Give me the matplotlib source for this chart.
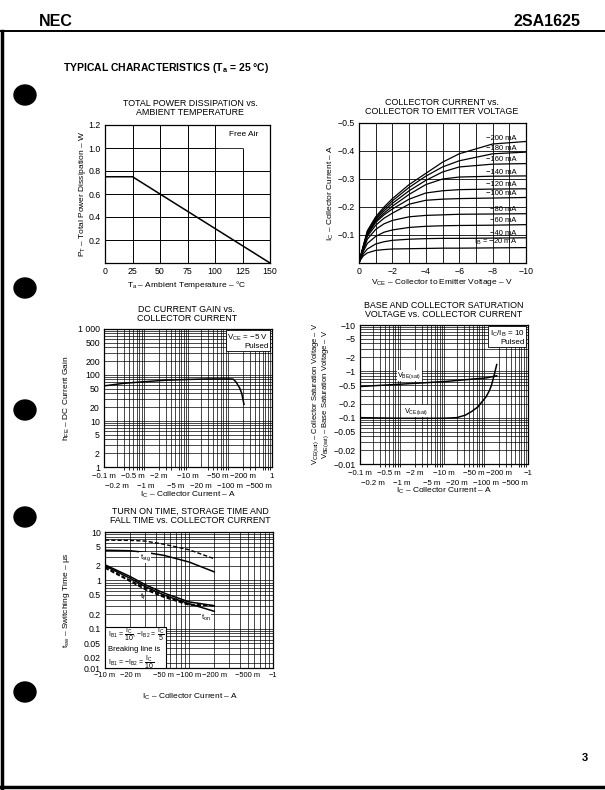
import matplotlib
matplotlib.use("Agg")
import matplotlib.pyplot as plt
import numpy as np
from matplotlib.patches import Ellipse, Rectangle
from matplotlib.lines import Line2D
from matplotlib.ticker import FixedLocator, LogLocator, NullFormatter

plt.rcParams['font.family'] = ['Liberation Sans Narrow', 'Liberation Sans', 'DejaVu Sans']
plt.rcParams['mathtext.fontset'] = 'custom'
plt.rcParams['mathtext.rm'] = 'Liberation Sans'
plt.rcParams['mathtext.it'] = 'Liberation Sans'
plt.rcParams['mathtext.default'] = 'regular'

# ---- data ----
# total power dissipation
ta = [0, 25, 150]
pt = [0.75, 0.75, 0.0]

# collector current vs VCE (A, V)
vce = [0, -0.1, -0.25, -0.5, -1, -1.5, -2, -3, -4, -5, -6, -8, -10]
ib_names = ["−200 mA", "−180 mA", "−160 mA", "−140 mA", "−120 mA",
            "−100 mA", "−80 mA", "−60 mA", "−40 mA", "$I_B$ = −20 mA"]
ic_200 = [0, -.025, -.06, -.115, -.165, -.2, -.23, -.28, -.32, -.36, -.39, -.425, -.434]
ic_180 = [0, -.025, -.058, -.112, -.16, -.193, -.222, -.27, -.31, -.343, -.365, -.39, -.396]
ic_160 = [0, -.024, -.056, -.108, -.155, -.186, -.213, -.258, -.295, -.325, -.343, -.353, -.355]
ic_140 = [0, -.024, -.055, -.104, -.15, -.178, -.203, -.245, -.28, -.3, -.307, -.31, -.311]
ic_120 = [0, -.023, -.053, -.1, -.145, -.172, -.193, -.228, -.25, -.258, -.262, -.264, -.265]
ic_100 = [0, -.022, -.05, -.095, -.135, -.16, -.178, -.21, -.224, -.228, -.23, -.232, -.234]
ic_80 = [0, -.02, -.045, -.085, -.12, -.14, -.152, -.165, -.17, -.172, -.174, -.175, -.176]
ic_60 = [0, -.018, -.04, -.07, -.095, -.11, -.118, -.127, -.131, -.133, -.134, -.135, -.137]
ic_40 = [0, -.015, -.032, -.05, -.068, -.076, -.081, -.085, -.087, -.088, -.088, -.089, -.09]
ic_20 = [0, -.012, -.025, -.036, -.045, -.048, -.05, -.051, -.052, -.053, -.053, -.054, -.055]

# DC current gain (|IC| in A)
ic_gain = [1e-4, 3e-4, 1e-3, 3e-3, 1e-2, 3e-2, 0.1, 0.12, 0.14, 0.17, 0.19, 0.215]
hfe = [58, 66, 72, 77, 80, 82, 82, 81, 70, 52, 40, 23]

# saturation voltages (|IC| in A, |V|)
ic_vbe = [1e-4, 1e-3, 1e-2, 0.1, 0.18]
vbe_sat = [0.47, 0.53, 0.6, 0.72, 0.8]
ic_vce = [1e-4, 1e-3, 1e-2, 2e-2, 3.2e-2, 4.5e-2, 6.4e-2, 0.08, 0.1, 0.12, 0.135, 0.155, 0.18]
vce_sat = [0.1, 0.097, 0.097, 0.1, 0.113, 0.135, 0.17, 0.22, 0.28, 0.38, 0.5, 0.8, 1.4]

# switching times (|IC| in A, us)
ic_sw = [0.01, 0.02, 0.03, 0.05, 0.1, 0.2]
tstg_dash = [6.8, 6.7, 6.5, 5.6, 4.3, 2.8]
tstg = [4.2, 4.1, 3.8, 3.3, 2.4, 1.5]
ton = [2.0, 1.1, 0.75, 0.5, 0.33, 0.23]
tf = [2.1, 1.2, 0.82, 0.55, 0.36, 0.3]
ton_dash = [1.9, 1.0, 0.7, 0.47, 0.32, 0.3]
tf_dash = [1.8, 0.95, 0.65, 0.45, 0.31, 0.3]

# tick labels (log current axes use two staggered rows)
row1_ticks = [1e-4, 5e-4, 2e-3, 1e-2, 5e-2, 0.2, 1]
row1_names = ["−0.1 m", "−0.5 m", "−2 m", "−10 m", "−50 m", "−200 m", "1"]
row2_ticks = [2e-4, 1e-3, 5e-3, 2e-2, 0.1, 0.5]
row2_names = ["−0.2 m", "−1 m", "−5 m", "−20 m", "−100 m", "−500 m"]
hfe_ticks = [1, 2, 5, 10, 20, 50, 100, 200, 500, 1000]
hfe_names = ["1", "2", "5", "10", "20", "50", "100", "200", "500", "1 000"]
v_ticks = [0.01, 0.02, 0.05, 0.1, 0.2, 0.5, 1, 2, 5, 10]
v_names = ["−0.01", "−0.02", "−0.05", "−0.1", "−0.2", "−0.5", "−1", "−2", "−5", "−10"]
sw_x_ticks = [0.01, 0.02, 0.05, 0.1, 0.2, 0.5, 1]
sw_x_names = ["−10 m", "−20 m", "−50 m", "−100 m", "−200 m", "−500 m", "−1"]
sw_y_ticks = [0.0155, 0.02, 0.05, 0.1, 0.2, 0.5, 1, 2, 5, 10]
sw_y_names = ["0.01", "0.02", "0.05", "0.1", "0.2", "0.5", "1", "2", "5", "10"]

W, H = 605, 790
fig = plt.figure(figsize=(W / 100, H / 100), dpi=100)


def box(l, t, r, b):
    return [l / W, 1 - b / H, (r - l) / W, (b - t) / H]


def ftext(x, y, s, **kw):
    kw.setdefault('ha', 'center')
    kw.setdefault('va', 'center')
    fig.text(x / W, 1 - y / H, s, **kw)


def style(ax):
    ax.set_axisbelow(True)
    ax.tick_params(which='both', length=0, labelsize=6.3, pad=3)
    for s in ax.spines.values():
        s.set_linewidth(0.9)


def loggrid(ax, axis):
    a = ax.xaxis if axis == 'x' else ax.yaxis
    a.set_minor_locator(LogLocator(base=10, subs=np.arange(2, 10)))
    a.set_minor_formatter(NullFormatter())


def two_rows(ax, names1):
    ax.set_xticks(row1_ticks)
    ax.set_xticklabels(names1)
    ax.tick_params(axis='x', pad=4, labelsize=5.6)
    sec = ax.secondary_xaxis('bottom')
    sec.set_xticks(row2_ticks)
    sec.set_xticklabels(row2_names)
    sec.tick_params(length=0, pad=11.5, labelsize=5.6)
    sec.spines['bottom'].set_visible(False)


TS = 6.4   # title size
LS = 6.0   # axis label size

# ---- page furniture ----
fig.add_artist(Line2D([0, 1], [1 - 31 / H] * 2, color='k', lw=1.4))
fig.add_artist(Line2D([1.5 / W] * 2, [0, 1 - 31 / H], color='k', lw=2.5))
fig.add_artist(Line2D([0, 1], [1 - 787 / H] * 2, color='k', lw=2.5))
ftext(39, 21, "NEC", ha='left', fontsize=11.5, fontweight='bold', family='Liberation Sans')
ftext(580, 21, "2SA1625", ha='right', fontsize=11.5, fontweight='bold', family='Liberation Sans')
ftext(63, 68, "TYPICAL CHARACTERISTICS (T$_a$ = 25 °C)", ha='left', fontsize=7.5,
      fontweight='bold', family='Liberation Sans')
ftext(585, 758, "3", fontsize=8, fontweight='bold', family='Liberation Sans')
for yc in [95, 288, 410, 517, 692]:
    fig.add_artist(Ellipse((25 / W, 1 - yc / H), 22 / W, 20 / H, color='k',
                           transform=fig.transFigure))

# ---- total power dissipation ----
ax1 = fig.add_axes(box(105, 125, 270, 263))
style(ax1)
ax1.plot(ta, pt, color='k', lw=1.1, zorder=3)
ax1.set_xlim(0, 150)
ax1.set_ylim(0, 1.2)
ax1.set_xticks([0, 25, 50, 75, 100, 125, 150])
ax1.set_yticks([0.2, 0.4, 0.6, 0.8, 1.0, 1.2])
ax1.set_yticklabels(["0.2", "0.4", "0.6", "0.8", "1.0", "1.2"])
ax1.grid(True, color='k', lw=0.7)
ax1.add_patch(Rectangle((101.5, 1.01), 48.5, 0.19, color='w', zorder=1))
ax1.add_patch(Rectangle((126, 0.99), 24, 0.21, color='w', zorder=1))
ax1.text(126, 1.12, "Free Air", fontsize=6, ha='center', va='center')
ftext(190, 108, "TOTAL POWER DISSIPATION vs.\nAMBIENT TEMPERATURE", fontsize=TS, linespacing=1.0)
ftext(187, 285, "T$_a$ – Ambient Temperature – °C", fontsize=LS)
ftext(83, 194, "P$_T$ – Total Power Dissipation – W", fontsize=LS, rotation=90)

# ---- collector current vs VCE ----
ax2 = fig.add_axes(box(359, 123, 526, 263))
style(ax2)
curves = [ic_200, ic_180, ic_160, ic_140, ic_120, ic_100, ic_80, ic_60, ic_40, ic_20]
for name, ic in zip(ib_names, curves):
    ax2.plot(vce, ic, color='k', lw=0.9, zorder=3)
    yl = np.interp(9.0, -np.array(vce), -np.array(ic))
    ax2.text(-9.45, -yl - 0.002, name, fontsize=5.5, ha='right', va='bottom', zorder=4)
ax2.set_xlim(0, -10)
ax2.set_ylim(0, -0.5)
ax2.set_xticks([0, -2, -4, -6, -8, -10])
ax2.set_xticklabels(["0", "−2", "−4", "−6", "−8", "−10"])
ax2.xaxis.set_minor_locator(FixedLocator([-1, -3, -5, -7, -9]))
ax2.set_yticks([-0.1, -0.2, -0.3, -0.4, -0.5])
ax2.set_yticklabels(["−0.1", "−0.2", "−0.3", "−0.4", "−0.5"])
ax2.grid(True, which='both', color='k', lw=0.6)
ftext(442, 107, "COLLECTOR CURRENT vs.\nCOLLECTOR TO EMITTER VOLTAGE", fontsize=TS, linespacing=1.0)
ftext(442, 283, "V$_{CE}$ – Collector to Emitter Voltage – V", fontsize=LS)
ftext(331, 193, "I$_C$ – Collector Current – A", fontsize=LS, rotation=90)

# ---- DC current gain ----
ax3 = fig.add_axes(box(104, 329, 272, 467))
style(ax3)
ax3.set_xscale('log')
ax3.set_yscale('log')
ax3.plot(ic_gain, hfe, color='k', lw=1.1, zorder=3)
ax3.set_xlim(1e-4, 1)
ax3.set_ylim(1, 1000)
loggrid(ax3, 'x')
loggrid(ax3, 'y')
two_rows(ax3, row1_names)
ax3.set_yticks(hfe_ticks)
ax3.set_yticklabels(hfe_names)
ax3.grid(True, which='both', color='k', lw=0.5)
ax3.text(0.98, 0.975, "V$_{CE}$ = −5 V\nPulsed", transform=ax3.transAxes, fontsize=5.8,
         ha='right', va='top', linespacing=1.0,
         bbox=dict(facecolor='w', edgecolor='k', lw=0.6, pad=1.2), zorder=5)
ftext(187, 314, "DC CURRENT GAIN vs.\nCOLLECTOR CURRENT", fontsize=TS, linespacing=1.0)
ftext(188, 495, "I$_C$ – Collector Current – A", fontsize=LS)
ftext(67, 398, "h$_{FE}$ – DC Current Gain", fontsize=LS, rotation=90)

# ---- saturation voltages ----
ax4 = fig.add_axes(box(360, 325, 528, 464))
style(ax4)
ax4.set_xscale('log')
ax4.set_yscale('log')
ax4.plot(ic_vbe, vbe_sat, color='k', lw=1.1, zorder=3)
ax4.plot(ic_vce, vce_sat, color='k', lw=1.1, zorder=3)
ax4.set_xlim(1e-4, 1)
ax4.set_ylim(0.01, 10)
loggrid(ax4, 'x')
loggrid(ax4, 'y')
two_rows(ax4, row1_names[:-1] + ["−1"])
ax4.set_yticks(v_ticks)
ax4.set_yticklabels(v_names)
ax4.grid(True, which='both', color='k', lw=0.5)
ax4.text(1.5e-3, 0.62, "V$_{BE(sat)}$", fontsize=5.3, ha='center', va='bottom',
         bbox=dict(facecolor='w', edgecolor='none', pad=0.3), zorder=4)
ax4.text(2.2e-3, 0.105, "V$_{CE(sat)}$", fontsize=5.3, ha='center', va='bottom',
         bbox=dict(facecolor='w', edgecolor='none', pad=0.3), zorder=4)
ax4.text(0.98, 0.975, "I$_C$/I$_B$ = 10\nPulsed", transform=ax4.transAxes, fontsize=5.8,
         ha='right', va='top', linespacing=1.0,
         bbox=dict(facecolor='w', edgecolor='k', lw=0.6, pad=1.2), zorder=5)
ftext(444, 310, "BASE AND COLLECTOR SATURATION\nVOLTAGE vs. COLLECTOR CURRENT", fontsize=TS,
      linespacing=1.0)
ftext(444, 491, "I$_C$ – Collector Current – A", fontsize=LS)
ftext(316, 394, "V$_{CE(sat)}$ – Collector Saturation Voltage – V", fontsize=5.5, rotation=90)
ftext(326, 394, "V$_{BE(sat)}$ – Base Saturation Voltage – V", fontsize=5.5, rotation=90)

# ---- switching times ----
ax5 = fig.add_axes(box(105, 532, 273, 668))
style(ax5)
ax5.set_xscale('log')
ax5.set_yscale('log')
ax5.plot(ic_sw, tstg_dash, color='k', lw=1.0, ls=(0, (3, 1.5)), zorder=3)
ax5.plot(ic_sw, tstg, color='k', lw=1.1, zorder=3)
ax5.plot(ic_sw, ton, color='k', lw=1.1, zorder=3)
ax5.plot(ic_sw, tf, color='k', lw=1.1, zorder=3)
ax5.plot(ic_sw, ton_dash, color='k', lw=1.0, ls=(0, (3, 1.5)), zorder=3)
ax5.plot(ic_sw, tf_dash, color='k', lw=1.0, ls=(0, (3, 1.5)), zorder=3)
ax5.set_xlim(0.01, 1)
ax5.set_ylim(0.0155, 10)
loggrid(ax5, 'x')
loggrid(ax5, 'y')
ax5.set_xticks(sw_x_ticks)
ax5.set_xticklabels(sw_x_names)
ax5.set_yticks(sw_y_ticks)
ax5.set_yticklabels(sw_y_names)
ax5.get_yticklabels()[1].set_va('bottom')
ax5.tick_params(axis='x', pad=3, labelsize=5.4)
ax5.grid(True, which='both', color='k', lw=0.5)
ax5.text(0.03, 3.0, "t$_{stg}$", fontsize=5.5, ha='center', va='center',
         bbox=dict(facecolor='w', edgecolor='none', pad=0.2), zorder=4)
ax5.text(0.028, 0.45, "t$_f$", fontsize=5.5, ha='center', va='center', zorder=4)
ax5.text(0.16, 0.17, "t$_{on}$", fontsize=5.5, ha='center', va='center',
         bbox=dict(facecolor='w', edgecolor='none', pad=0.2), zorder=4)
ax5.add_patch(Rectangle((0, 0), 0.363, 0.30, transform=ax5.transAxes, facecolor='w',
                        edgecolor='k', lw=0.8, zorder=4))
ax5.text(0.02, 0.245, r"I$_{B1}$ = $\dfrac{I_C}{10}$, −I$_{B2}$ = $\dfrac{I_C}{5}$",
         transform=ax5.transAxes, fontsize=5.0, ha='left', va='center', zorder=5)
ax5.text(0.02, 0.135, "Breaking line is", transform=ax5.transAxes, fontsize=5.5,
         ha='left', va='center', zorder=5)
ax5.text(0.02, 0.045, r"I$_{B1}$ = −I$_{B2}$ = $\dfrac{I_C}{10}$", transform=ax5.transAxes,
         fontsize=5.0, ha='left', va='center', zorder=5)
ftext(190, 516, "TURN ON TIME, STORAGE TIME AND\nFALL TIME vs. COLLECTOR CURRENT", fontsize=TS,
      linespacing=1.0)
ftext(190, 697, "I$_C$ – Collector Current – A", fontsize=LS)
ftext(67, 600, "t$_{sw}$ – Switching Time – μs", fontsize=LS, rotation=90)

fig.savefig("out.png", dpi=100, facecolor='w')
